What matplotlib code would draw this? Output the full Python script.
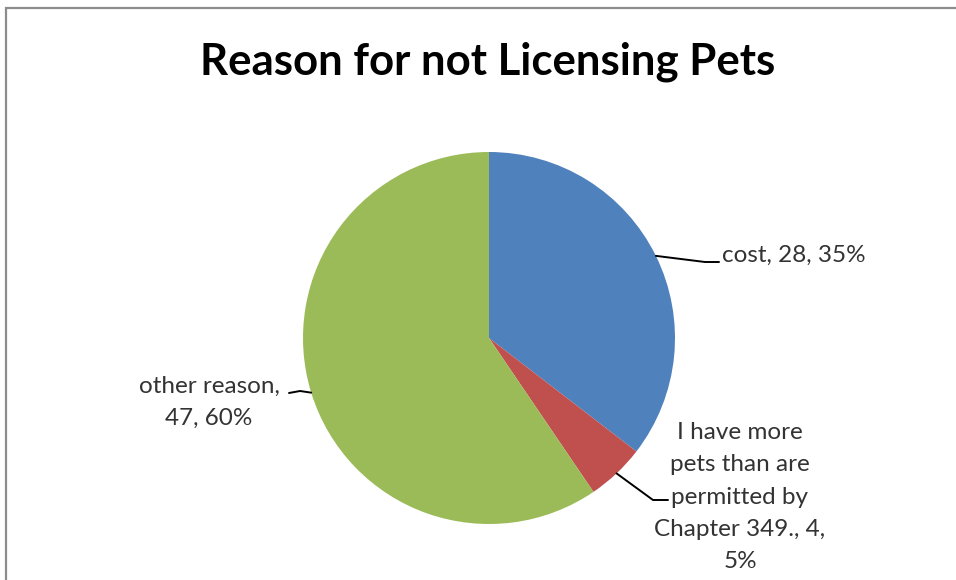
import numpy as np
import matplotlib
matplotlib.use("Agg")
import matplotlib.pyplot as plt
from matplotlib.patches import Rectangle

# ── Data ──────────────────────────────────────────────────────────────────────
reasons = ["cost", "I have more\npets than are\npermitted by\nChapter 349.", "other reason"]
counts = [28, 4, 47]
percents = [35, 5, 60]
colors = ["#4F81BD", "#C0504D", "#9BBB59"]

plt.rcParams["font.family"] = ["Lato", "DejaVu Sans"]

W, H = 956, 580
fig = plt.figure(figsize=(W / 100, H / 100), dpi=100)
ax = fig.add_axes([0, 0, 1, 1])

# pixel-style coordinates, y measured up from the bottom
cx, cy, r = 489, H - 338, 186
wedges, _ = ax.pie(counts, colors=colors, startangle=90, counterclock=False,
                   center=(cx, cy), radius=r,
                   wedgeprops=dict(linewidth=0))
ax.set_xlim(0, W)
ax.set_ylim(0, H)
ax.set_aspect("equal")
ax.axis("off")

# chart frame (only top and left edges fall inside the canvas)
fig.patches.append(Rectangle((6 / W, -0.1), 1.2, (H - 8) / H + 0.1,
                             transform=fig.transFigure, fill=False,
                             edgecolor="#8c8c8c", linewidth=1.6))

fig.text(488 / W, 1 - 62 / H, "Reason for not Licensing Pets",
         ha="center", va="center", fontsize=31.5, fontweight="bold",
         color="black")

labels = [f"{n}, {c}, {p}%" for n, c, p in zip(reasons, counts, percents)]
labels[1] = f"{reasons[1]}, {counts[1]},\n{percents[1]}%"
labels[2] = f"{reasons[2]},\n{counts[2]}, {percents[2]}%"

# text anchors and leader-line bends
label_pos = [(722, H - 255, "left"), (740, H - 497, "center"), (209, H - 402, "center")]
elbows = [[(705, H - 262), (719, H - 262)],
          [(653, H - 500), (668, H - 500)],
          [(300, H - 391), (289, H - 393)]]

for w, lab, (tx, ty, ha), elb in zip(wedges, labels, label_pos, elbows):
    ang = np.deg2rad((w.theta1 + w.theta2) / 2)
    sx, sy = cx + r * np.cos(ang), cy + r * np.sin(ang)
    xs = [sx] + [p[0] for p in elb]
    ys = [sy] + [p[1] for p in elb]
    ax.plot(xs, ys, color="black", linewidth=1.4, solid_capstyle="round")
    ax.text(tx, ty, lab, ha=ha, va="center", fontsize=17.5, color="#333333",
            linespacing=1.65, multialignment="center")

fig.savefig("out.png", dpi=100, facecolor="white")
